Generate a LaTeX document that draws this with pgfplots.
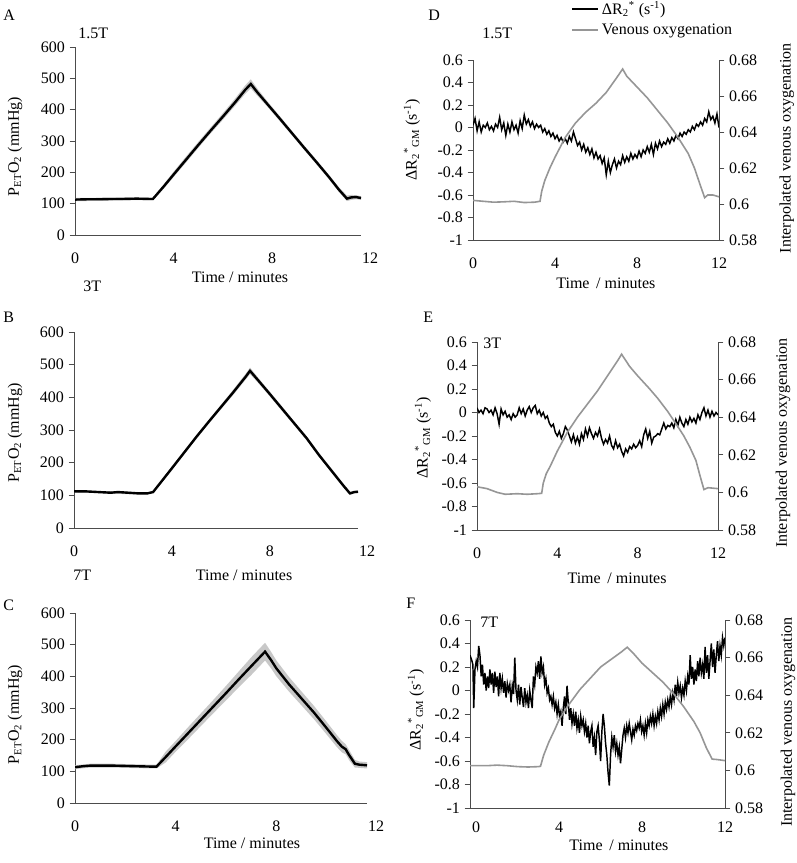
\documentclass[border=0pt]{standalone}
\usepackage{fontspec}
\setmainfont{Liberation Serif}
\usepackage{pgfplots}
\pgfplotsset{compat=1.18}
\definecolor{venous}{RGB}{150,150,150}
\definecolor{band}{RGB}{200,200,200}
\newcommand{\fs}{\fontsize{12}{14}\selectfont}
\pgfplotsset{
  base/.style={scale only axis, anchor=south west,
    axis line style={black!70, line width=0.6pt},
    tick align=outside, major tick length=4pt,
    ytick style={black!70, line width=0.6pt},
    xtick style={draw=none},
    /pgf/number format/assume math mode=true,
    tick label style={font=\fs},
    label style={font=\fs},
    xticklabel style={yshift=-6pt},
    yticklabel style={/pgf/number format/fixed, /pgf/number format/precision=2},
  },
  leftp/.style={base, axis x line*=bottom, axis y line*=left,
    xmin=0, xmax=11.6, ymin=0, ymax=600, ytick={0,100,...,600},
    xtick={0,4,8}, extra x ticks={11.6}, extra x tick labels={12},
    extra x tick style={xticklabel style={xshift=6.75pt}},
    xlabel={Time / minutes},
    ylabel={P\textsubscript{ET}O\textsubscript{2} (mmHg)}},
  rightl/.style={base, axis x line*=bottom, axis y line*=left,
    xmax=12, ymin=-1, ymax=0.6, ytick={-1,-0.8,-0.6,-0.4,-0.2,0,0.2,0.4,0.6},
    xtick={0,4,8,12}, xlabel={Time\, / minutes},
    ylabel={ΔR\textsubscript{2}\textsuperscript{*}\textsubscript{GM} (s\textsuperscript{-1})}},
  rightr/.style={base, axis x line=none, axis y line*=right,
    xmax=12, ymin=0.58, ymax=0.68, ytick={0.58,0.6,0.62,0.64,0.66,0.68},
    ylabel={Interpolated venous oxygenation}},
  petline/.style={black, line width=1.8pt},
  rline/.style={black, line width=1.1pt},
  vline/.style={venous, line width=1.2pt},
}
\begin{document}
\begin{tikzpicture}[font=\fs]
\path[use as bounding box] (0,0) rectangle (597pt,647.25pt);

% ---------------- A ----------------
\begin{axis}[leftp, at={(56.25pt,471pt)}, width=214.5pt, height=141pt,
  xlabel style={at={(axis description cs:0.577,-0.223)}, anchor=center},
  ylabel style={at={(axis description cs:-0.21,0.47)}, anchor=center}]
\addplot[fill=band, draw=none] coordinates {
(0,118) (1,119) (2,120) (3,119) (3.16,119) (3.6,162) (4,202) (4.5,250) (5,297) (5.5,343) (6,389) (6.5,436) (6.9,477) (7.13,497) (7.4,467) (7.8,427) (8.3,380) (8.8,332) (9.3,285) (9.8,239) (10.3,192) (10.7,153) (11.03,126) (11.2,128) (11.4,127) (11.6,124)
(11.6,112) (11.4,114) (11.2,112) (11.03,108) (10.7,138) (10.3,178) (9.8,225) (9.3,271) (8.8,318) (8.3,364) (7.8,410) (7.4,444) (7.13,468) (6.9,450) (6.5,413) (6,368) (5.5,324) (5,278) (4.5,231) (4,185) (3.6,148) (3.16,111) (3,111) (2,111) (1,109) (0,108)
} -- cycle;
\addplot[petline] coordinates {
(0,113) (0.5,114) (1,114) (1.5,115) (2,115) (2.5,116) (3,115) (3.16,115) (3.6,155) (4,193) (4.5,240) (5,287) (5.5,333) (6,378) (6.5,424) (6.9,463) (7.13,482) (7.4,455) (7.8,418) (8.3,372) (8.8,325) (9.3,278) (9.8,232) (10.3,185) (10.7,145) (11.03,116) (11.2,120) (11.4,121) (11.6,118)
};
\end{axis}

% ---------------- B ----------------
\begin{axis}[leftp, at={(55.5pt,251.25pt)}, width=213pt, height=147pt,
  xlabel style={at={(axis description cs:0.599,-0.24)}, anchor=center},
  ylabel style={at={(axis description cs:-0.208,0.485)}, anchor=center}]
\addplot[fill=band, draw=none] coordinates {
(0,115) (1,113) (2,112) (3,109) (3.23,113) (3.6,150) (4,189) (4.5,237) (5,285) (5.5,331) (6,377) (6.5,423) (7,471) (7.19,491) (7.5,462) (8,417) (8.5,372) (9,326) (9.5,281) (10,230) (10.5,183) (11,136) (11.27,111) (11.45,114) (11.6,115)
(11.6,107) (11.45,106) (11.27,101) (11,124) (10.5,171) (10,218) (9.5,269) (9,314) (8.5,358) (8,403) (7.5,446) (7.19,471) (7,453) (6.5,407) (6,363) (5.5,319) (5,273) (4.5,225) (4,177) (3.6,140) (3.23,107) (3,103) (2,104) (1,107) (0,109)
} -- cycle;
\addplot[petline] coordinates {
(0,112) (0.5,112) (1,110) (1.5,108) (1.8,110) (2.2,108) (2.6,106) (3.0,106) (3.23,110) (3.6,145) (4,183) (4.5,231) (5,279) (5.5,325) (6,370) (6.5,415) (7,462) (7.19,481) (7.5,454) (8,410) (8.5,365) (9,320) (9.5,275) (10,224) (10.5,177) (11,130) (11.27,106) (11.45,110) (11.6,111)
};
\end{axis}

% ---------------- C ----------------
\begin{axis}[leftp, at={(56.25pt,45pt)}, width=219pt, height=142.5pt,
  xlabel style={at={(axis description cs:0.606,-0.21)}, anchor=center},
  ylabel style={at={(axis description cs:-0.205,0.465)}, anchor=center}]
\addplot[fill=band, draw=none] coordinates {
(0,119) (0.6,124) (1.5,124) (2.5,122) (3.24,121) (3.6,162) (4,196) (4.5,240) (5,283) (5.5,326) (6,370) (6.5,415) (7,460) (7.55,506) (7.8,476) (8,450) (8.5,398) (9,352) (9.5,306) (10,256) (10.4,215) (10.6,196) (10.75,186) (10.9,166) (11.12,136) (11.3,131) (11.6,129)
(11.6,109) (11.3,111) (11.12,112) (10.9,134) (10.75,154) (10.6,160) (10.4,177) (10,216) (9.5,264) (9,308) (8.5,352) (8,400) (7.8,424) (7.55,450) (7,404) (6.5,365) (6,324) (5.5,284) (5,243) (4.5,202) (4,162) (3.6,128) (3.24,109) (2.5,110) (1.5,112) (0.6,112) (0,107)
} -- cycle;
\addplot[petline] coordinates {
(0,113) (0.3,116) (0.6,118) (1,118) (1.5,118) (2,117) (2.5,116) (3,115) (3.24,115) (3.6,145) (4,179) (4.5,221) (5,263) (5.5,305) (6,347) (6.5,390) (7,432) (7.55,478) (7.8,450) (8,425) (8.5,375) (9,330) (9.5,285) (10,236) (10.4,196) (10.6,178) (10.75,170) (10.9,150) (11.12,124) (11.3,121) (11.6,119)
};
\end{axis}

% ---------------- D ----------------
\begin{axis}[rightl, xmin=0, at={(354.75pt,467.25pt)}, width=184.5pt, height=135pt,
  xlabel style={at={(axis description cs:0.54,-0.239)}, anchor=center},
  ylabel style={at={(axis description cs:-0.248,0.556)}, anchor=center},
  legend style={at={(axis description cs:0.40,1.34)}, anchor=north west, draw=none, fill=none, font=\fs, inner sep=0pt, row sep=1.5pt},
  legend cell align=left,
  legend image code/.code={\draw[#1] (0pt,0pt) -- (19.5pt,0pt);}]
\addplot[rline] coordinates {
(0.0,0.02) (0.1,0.08) (0.2,-0.03) (0.3,0.05) (0.4,-0.04) (0.5,0.02) (0.6,0.00) (0.7,0.04) (0.8,-0.02) (0.9,0.01)
(1.0,-0.03) (1.1,0.03) (1.2,0.00) (1.3,0.09) (1.4,-0.02) (1.5,0.04) (1.6,-0.07) (1.7,0.03) (1.8,-0.04) (1.9,0.05)
(2.0,-0.02) (2.1,0.02) (2.2,-0.05) (2.3,0.06) (2.4,-0.01) (2.5,0.11) (2.6,0.03) (2.7,0.07) (2.8,0.01) (2.9,0.05)
(3.0,-0.01) (3.1,0.03) (3.2,0.00) (3.3,0.02) (3.4,-0.04) (3.5,-0.01) (3.6,-0.06) (3.7,-0.03) (3.8,-0.08) (3.9,-0.05)
(4.0,-0.10) (4.1,-0.07) (4.2,-0.12) (4.3,-0.09) (4.4,-0.13) (4.5,-0.10) (4.6,-0.14) (4.7,-0.08) (4.8,-0.12) (4.9,-0.04)
(5.0,-0.10) (5.1,-0.16) (5.2,-0.13) (5.3,-0.20) (5.4,-0.15) (5.5,-0.22) (5.6,-0.18) (5.7,-0.24) (5.8,-0.19) (5.9,-0.27)
(6.0,-0.22) (6.1,-0.28) (6.2,-0.25) (6.3,-0.32) (6.4,-0.27) (6.5,-0.42) (6.6,-0.30) (6.7,-0.40) (6.8,-0.33) (6.9,-0.28)
(7.0,-0.36) (7.1,-0.30) (7.2,-0.33) (7.3,-0.25) (7.4,-0.31) (7.5,-0.26) (7.6,-0.30) (7.7,-0.23) (7.8,-0.28) (7.9,-0.24)
(8.0,-0.27) (8.1,-0.21) (8.2,-0.26) (8.3,-0.20) (8.4,-0.23) (8.5,-0.17) (8.6,-0.22) (8.7,-0.15) (8.8,-0.24) (8.9,-0.14)
(9.0,-0.19) (9.1,-0.12) (9.2,-0.17) (9.3,-0.13) (9.4,-0.15) (9.5,-0.10) (9.6,-0.14) (9.7,-0.09) (9.8,-0.12) (9.9,-0.07)
(10.0,-0.10) (10.1,-0.05) (10.2,-0.08) (10.3,-0.04) (10.4,-0.06) (10.5,-0.02) (10.6,-0.04) (10.7,0.01) (10.8,-0.02) (10.9,0.03)
(11.0,0.01) (11.1,0.05) (11.2,0.02) (11.3,0.08) (11.4,0.05) (11.5,0.14) (11.6,0.07) (11.7,0.10) (11.8,0.04) (11.9,0.12) (12.0,0.00)
};
\addlegendentry{ΔR\textsubscript{2}\textsuperscript{*} (s\textsuperscript{-1})}
\addlegendimage{vline}
\addlegendentry{Venous oxygenation}
\end{axis}
\begin{axis}[rightr, xmin=0, at={(354.75pt,467.25pt)}, width=184.5pt, height=135pt,
  ylabel style={at={(axis description cs:1.276,0.51)}, anchor=center, rotate=0}]
\addplot[vline] coordinates {
(0,0.602) (0.5,0.6015) (1,0.601) (1.5,0.6012) (2,0.6015) (2.5,0.6008) (3.0,0.601) (3.27,0.6015) (3.35,0.607) (3.5,0.613) (3.75,0.620) (4.0,0.626) (4.5,0.637) (5.0,0.645) (5.5,0.651) (6.0,0.656) (6.5,0.662) (7.0,0.670) (7.3,0.675) (7.5,0.671) (8.0,0.665) (8.5,0.659) (9.0,0.652) (9.5,0.645) (10.0,0.637) (10.5,0.628) (10.8,0.620) (11.1,0.610) (11.3,0.6035) (11.45,0.605) (11.7,0.605) (12,0.604)
};
\end{axis}

% ---------------- E ----------------
\begin{axis}[rightl, xmin=0, at={(357.75pt,249.75pt)}, width=180.75pt, height=141pt,
  xlabel style={at={(axis description cs:0.581,-0.255)}, anchor=center},
  ylabel style={at={(axis description cs:-0.224,0.49)}, anchor=center}]
\addplot[rline] coordinates {
(0.0,0.04) (0.1,0.00) (0.2,0.02) (0.3,-0.01) (0.4,0.04) (0.5,0.03) (0.6,0.00) (0.7,0.02) (0.8,-0.02) (0.9,0.04)
(1.0,-0.01) (1.1,-0.10) (1.2,0.03) (1.3,-0.02) (1.4,0.01) (1.5,-0.04) (1.6,-0.02) (1.7,-0.06) (1.8,-0.01) (1.9,-0.04)
(2.0,-0.02) (2.1,0.04) (2.2,-0.01) (2.3,0.03) (2.4,-0.03) (2.5,0.02) (2.6,0.05) (2.7,0.00) (2.8,0.04) (2.9,0.06)
(3.0,-0.01) (3.1,0.02) (3.2,-0.03) (3.3,0.00) (3.4,-0.05) (3.5,-0.03) (3.6,-0.09) (3.7,-0.12) (3.8,-0.10) (3.9,-0.17)
(4.0,-0.20) (4.1,-0.16) (4.2,-0.22) (4.3,-0.18) (4.4,-0.12) (4.5,-0.15) (4.6,-0.20) (4.7,-0.25) (4.8,-0.19) (4.9,-0.26)
(5.0,-0.21) (5.1,-0.27) (5.2,-0.18) (5.3,-0.23) (5.4,-0.14) (5.5,-0.20) (5.6,-0.13) (5.7,-0.18) (5.8,-0.22) (5.9,-0.17)
(6.0,-0.20) (6.1,-0.14) (6.2,-0.22) (6.3,-0.27) (6.4,-0.23) (6.5,-0.26) (6.6,-0.20) (6.7,-0.28) (6.8,-0.31) (6.9,-0.24)
(7.0,-0.30) (7.1,-0.27) (7.2,-0.33) (7.3,-0.37) (7.4,-0.31) (7.5,-0.34) (7.6,-0.29) (7.7,-0.31) (7.8,-0.27) (7.9,-0.30)
(8.0,-0.28) (8.1,-0.24) (8.2,-0.29) (8.3,-0.19) (8.4,-0.14) (8.5,-0.22) (8.6,-0.16) (8.7,-0.26) (8.8,-0.21) (8.9,-0.20)
(9.0,-0.18) (9.1,-0.19) (9.2,-0.14) (9.3,-0.09) (9.4,-0.14) (9.5,-0.11) (9.6,-0.12) (9.7,-0.09) (9.8,-0.13) (9.9,-0.06)
(10.0,-0.11) (10.1,-0.04) (10.2,-0.09) (10.3,-0.12) (10.4,-0.06) (10.5,-0.10) (10.6,-0.04) (10.7,-0.08) (10.8,-0.05) (10.9,-0.09)
(11.0,-0.02) (11.1,-0.06) (11.2,0.00) (11.3,0.04) (11.4,-0.03) (11.5,0.02) (11.6,-0.04) (11.7,0.01) (11.8,-0.03) (11.9,0.00) (12.0,-0.02)
};
\end{axis}
\begin{axis}[rightr, xmin=0, at={(357.75pt,249.75pt)}, width=180.75pt, height=141pt,
  ylabel style={at={(axis description cs:1.27,0.463)}, anchor=center, rotate=0}]
\addplot[vline] coordinates {
(0,0.603) (0.5,0.602) (1.0,0.600) (1.4,0.599) (2.0,0.5993) (2.5,0.599) (3.0,0.5993) (3.22,0.5995) (3.3,0.605) (3.45,0.610) (3.65,0.614) (4.0,0.622) (4.5,0.632) (5.0,0.640) (5.5,0.647) (6.0,0.654) (6.5,0.662) (7.0,0.670) (7.2,0.6735) (7.6,0.667) (8.0,0.662) (8.6,0.655) (9.0,0.650) (9.5,0.643) (10.0,0.635) (10.3,0.630) (10.6,0.624) (10.9,0.617) (11.1,0.609) (11.3,0.6015) (11.5,0.6025) (12,0.602)
};
\end{axis}

% ---------------- F ----------------
\begin{axis}[rightl, xmin=-0.3, at={(352.5pt,41.25pt)}, width=191.25pt, height=141pt,
  xticklabel style={yshift=3pt},
  xlabel style={at={(axis description cs:0.584,-0.197)}, anchor=center},
  ylabel style={at={(axis description cs:-0.212,0.52)}, anchor=center}]
\addplot[rline] coordinates {
(-0.30,0.30) (-0.22,0.26) (-0.16,0.22) (-0.12,-0.15) (-0.06,0.18) (0.00,0.25) (0.06,0.20) (0.12,0.38) (0.18,0.30) (0.24,0.12)
(0.30,0.22) (0.36,0.05) (0.42,0.15) (0.48,0.00) (0.54,0.12) (0.60,0.02) (0.66,0.18) (0.72,0.05) (0.78,0.15) (0.84,-0.02)
(0.90,0.16) (0.96,0.03) (1.02,0.12) (1.08,-0.05) (1.14,0.15) (1.20,0.02) (1.26,0.10) (1.32,-0.02) (1.38,0.08) (1.44,-0.06)
(1.50,0.06) (1.56,0.00) (1.62,0.05) (1.68,-0.10) (1.74,0.04) (1.80,-0.03) (1.86,0.28) (1.92,0.00) (1.98,-0.08) (2.04,0.05)
(2.10,-0.12) (2.16,0.03) (2.22,-0.06) (2.28,-0.14) (2.34,0.02) (2.40,-0.10) (2.46,-0.04) (2.52,-0.15) (2.58,0.00) (2.64,-0.08)
(2.70,-0.15) (2.76,0.12) (2.82,0.05) (2.88,0.20) (2.94,0.15) (3.00,0.25) (3.06,0.10) (3.12,0.29) (3.18,0.15) (3.24,0.20)
(3.30,0.05) (3.36,0.10) (3.42,-0.02) (3.48,0.02) (3.54,-0.08) (3.60,-0.05) (3.66,-0.12) (3.72,-0.05) (3.78,-0.15) (3.84,-0.10)
(3.90,-0.20) (3.96,-0.12) (4.02,-0.22) (4.08,-0.18) (4.14,-0.30) (4.20,-0.15) (4.26,-0.05) (4.32,-0.20) (4.38,0.04) (4.44,-0.10)
(4.50,-0.25) (4.56,-0.15) (4.62,-0.28) (4.68,-0.20) (4.74,-0.30) (4.80,-0.18) (4.86,-0.32) (4.92,-0.25) (4.98,-0.36) (5.04,-0.22)
(5.10,-0.30) (5.16,-0.25) (5.22,-0.35) (5.28,-0.28) (5.34,-0.40) (5.40,-0.30) (5.46,-0.45) (5.52,-0.35) (5.58,-0.30) (5.64,-0.48)
(5.70,-0.40) (5.76,-0.55) (5.82,-0.35) (5.88,-0.30) (5.94,-0.42) (6.00,-0.60) (6.06,-0.35) (6.12,-0.20) (6.18,-0.30) (6.24,-0.45)
(6.30,-0.55) (6.36,-0.70) (6.42,-0.81) (6.48,-0.55) (6.54,-0.40) (6.60,-0.48) (6.66,-0.38) (6.72,-0.52) (6.78,-0.45) (6.84,-0.55)
(6.90,-0.48) (6.96,-0.62) (7.02,-0.50) (7.08,-0.38) (7.14,-0.32) (7.20,-0.40) (7.26,-0.30) (7.32,-0.36) (7.38,-0.28) (7.44,-0.35)
(7.50,-0.42) (7.56,-0.33) (7.62,-0.38) (7.68,-0.30) (7.74,-0.34) (7.80,-0.28) (7.86,-0.32) (7.92,-0.25) (7.98,-0.35) (8.04,-0.30)
(8.10,-0.38) (8.16,-0.28) (8.22,-0.36) (8.28,-0.25) (8.34,-0.30) (8.40,-0.22) (8.46,-0.28) (8.52,-0.20) (8.58,-0.30) (8.64,-0.22)
(8.70,-0.28) (8.76,-0.18) (8.82,-0.25) (8.88,-0.15) (8.94,-0.22) (9.00,-0.12) (9.06,-0.20) (9.12,-0.10) (9.18,-0.16) (9.24,-0.08)
(9.30,-0.14) (9.36,-0.05) (9.42,-0.12) (9.48,-0.02) (9.54,-0.08) (9.60,0.05) (9.66,-0.05) (9.72,0.07) (9.78,-0.02) (9.84,0.04)
(9.90,-0.06) (9.96,0.02) (10.02,-0.04) (10.08,0.08) (10.14,0.00) (10.20,0.12) (10.26,0.05) (10.32,0.30) (10.38,0.10) (10.44,0.20)
(10.50,0.05) (10.56,0.18) (10.62,0.08) (10.68,0.25) (10.74,0.12) (10.80,0.28) (10.86,0.15) (10.92,0.22) (10.98,0.10) (11.04,0.37)
(11.10,0.15) (11.16,0.30) (11.22,0.10) (11.28,0.25) (11.34,0.40) (11.40,0.20) (11.46,0.35) (11.52,0.15) (11.58,0.30) (11.64,0.42)
(11.70,0.25) (11.76,0.38) (11.82,0.30) (11.88,0.45) (11.94,0.38) (12.00,0.45)
};
\end{axis}
\begin{axis}[rightr, xmin=-0.3, at={(352.5pt,41.25pt)}, width=191.25pt, height=141pt,
  ylabel style={at={(axis description cs:1.247,0.457)}, anchor=center, rotate=0}]
\addplot[vline] coordinates {
(-0.3,0.6025) (0.5,0.6025) (1.0,0.6028) (1.5,0.6025) (2.0,0.602) (2.5,0.6018) (3.0,0.602) (3.1,0.6022) (3.25,0.608) (3.5,0.615) (3.8,0.622) (4.0,0.627) (4.4,0.634) (5.0,0.643) (5.5,0.649) (6.0,0.655) (6.5,0.659) (7.0,0.663) (7.28,0.6655) (7.6,0.662) (8.0,0.657) (8.5,0.652) (9.0,0.647) (9.5,0.641) (10.0,0.634) (10.5,0.626) (10.8,0.620) (11.1,0.612) (11.38,0.606) (11.6,0.6058) (12,0.6052)
};
\end{axis}

% ---------------- panel letters and field strengths ----------------
\node[anchor=west, inner sep=0pt] at (2.25pt,636pt) {A};
\node[anchor=west, inner sep=0pt] at (58.5pt,622.5pt) {1.5T};
\node[anchor=west, inner sep=0pt] at (62.25pt,432.75pt) {3T};
\node[anchor=west, inner sep=0pt] at (2.25pt,409.5pt) {B};
\node[anchor=west, inner sep=0pt] at (54.75pt,216pt) {7T};
\node[anchor=west, inner sep=0pt] at (2.25pt,193.5pt) {C};
\node[anchor=west, inner sep=0pt] at (321pt,636pt) {D};
\node[anchor=west, inner sep=0pt] at (361.5pt,622.5pt) {1.5T};
\node[anchor=west, inner sep=0pt] at (317.25pt,409.5pt) {E};
\node[anchor=west, inner sep=0pt] at (362.25pt,390pt) {3T};
\node[anchor=west, inner sep=0pt] at (304.5pt,195pt) {F};
\node[anchor=west, inner sep=0pt] at (360pt,180.75pt) {7T};
\end{tikzpicture}
\end{document}
